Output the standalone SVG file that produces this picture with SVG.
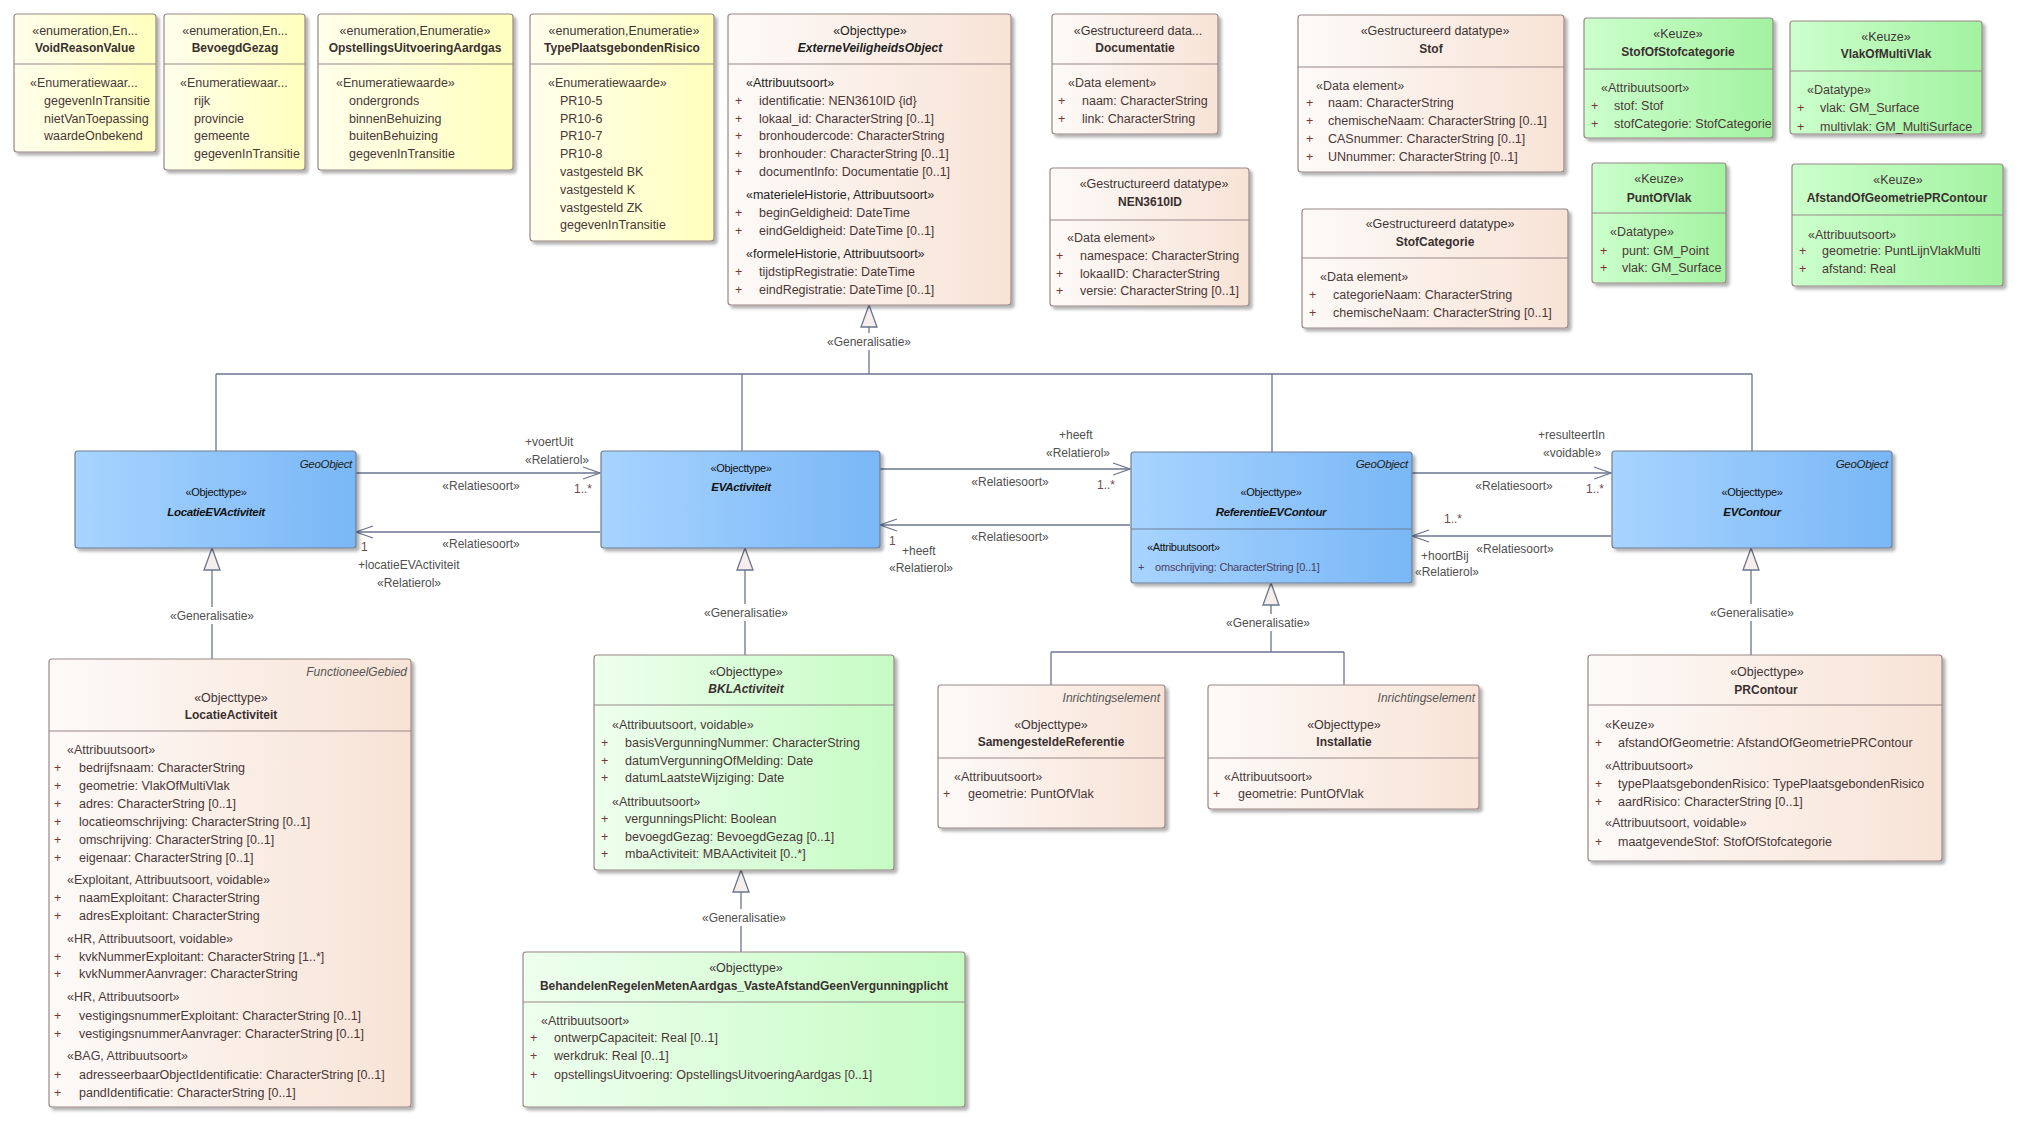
<svg xmlns="http://www.w3.org/2000/svg" width="2022" height="1125" viewBox="0 0 2022 1125">
<style>
.bx{stroke:#9A8888;stroke-width:1.2;filter:url(#sh)}
.enum{fill:url(#gEnum)}
.peach{fill:url(#gPeach)}
.green{fill:url(#gGreen)}
.lgreen{fill:url(#gLGreen)}
.blue{fill:url(#gBlue);stroke:#6F7E96}
.sep{stroke:#9A8888;stroke-width:1.2}
.bsep{stroke:#6F7E96;stroke-width:1.2}
text{font-family:"Liberation Sans",Arial,sans-serif}
.st{font-size:12.5px;fill:#3F3535;text-anchor:middle}
.nm{font-size:12px;font-weight:bold;fill:#3A3030;text-anchor:middle}
.nmi{font-size:12px;font-weight:bold;font-style:italic;fill:#1E1E1E;text-anchor:middle}
.sec{font-size:12.5px;fill:#4A3A3A}
.secb{font-size:12.5px;fill:#1E1E1E}
.at{font-size:12.5px;fill:#4A3636}
.pl{font-size:12.5px;fill:#7A3535}
.tag{font-size:12px;font-style:italic;fill:#555;text-anchor:end}
.bst{font-size:11px;fill:#111;text-anchor:middle;letter-spacing:-0.3px}
.bnm{font-size:11.5px;font-weight:bold;font-style:italic;fill:#111;text-anchor:middle;letter-spacing:-0.3px}
.btag{font-size:11.5px;font-style:italic;fill:#222;text-anchor:end;letter-spacing:-0.3px}
.bsec{font-size:11px;fill:#111;letter-spacing:-0.3px}
.bat{font-size:11px;fill:#4A4060;letter-spacing:-0.2px}
.conn{stroke:#6B7590;stroke-width:1.3;fill:none}
.tri{stroke:#6B7590;stroke-width:1.3;fill:#F6EEEA}
.lbl{font-size:12px;fill:#505050}
.lblm{font-size:12px;fill:#505050;text-anchor:middle}
.mul{font-size:12px;fill:#6A4A4A}
.lbg{fill:#fff}
</style>
<defs>
<filter id="sh" x="-5%" y="-5%" width="115%" height="115%">
<feDropShadow dx="3" dy="3" stdDeviation="1.5" flood-color="#000" flood-opacity="0.3"/>
</filter>
<linearGradient id="gEnum" x1="0" y1="0" x2="1" y2="0"><stop offset="0" stop-color="#FFFFEC"/><stop offset="1" stop-color="#FFFFBE"/></linearGradient>
<linearGradient id="gPeach" x1="0" y1="0" x2="1" y2="0"><stop offset="0" stop-color="#FDFAF8"/><stop offset="1" stop-color="#F8E3D6"/></linearGradient>
<linearGradient id="gGreen" x1="0" y1="0" x2="1" y2="0"><stop offset="0" stop-color="#CCFFCC"/><stop offset="1" stop-color="#A2F2A0"/></linearGradient>
<linearGradient id="gLGreen" x1="0" y1="0" x2="1" y2="0"><stop offset="0" stop-color="#EEFFEE"/><stop offset="1" stop-color="#C6FCC4"/></linearGradient>
<linearGradient id="gBlue" x1="0" y1="0" x2="1" y2="0"><stop offset="0" stop-color="#A8D4FF"/><stop offset="1" stop-color="#79B7F6"/></linearGradient>
</defs>

<g id="connectors">
<!-- generalization bus from ExterneVeiligheidsObject -->
<polygon class="tri" points="869,305 861,327 877,327"/>
<line class="conn" x1="869" y1="327" x2="869" y2="374"/>
<line class="conn" x1="216" y1="374" x2="1752" y2="374"/>
<line class="conn" x1="216" y1="374" x2="216" y2="451"/>
<line class="conn" x1="742" y1="374" x2="742" y2="451"/>
<line class="conn" x1="1272" y1="374" x2="1272" y2="452"/>
<line class="conn" x1="1752" y1="374" x2="1752" y2="451"/>
<rect class="lbg" x="825" y="333" width="88" height="17"/>
<text class="lblm" x="869" y="346">«Generalisatie»</text>

<!-- LocatieActiviteit -> LocatieEVActiviteit -->
<polygon class="tri" points="212,548 204,570 220,570"/>
<line class="conn" x1="212" y1="570" x2="212" y2="659"/>
<rect class="lbg" x="168" y="607" width="88" height="17"/>
<text class="lblm" x="212" y="620">«Generalisatie»</text>

<!-- BKLActiviteit -> EVActiviteit -->
<polygon class="tri" points="745,548 737,570 753,570"/>
<line class="conn" x1="745" y1="570" x2="745" y2="655"/>
<rect class="lbg" x="702" y="604" width="88" height="17"/>
<text class="lblm" x="746" y="617">«Generalisatie»</text>

<!-- Behandelen -> BKLActiviteit -->
<polygon class="tri" points="741,870 733,892 749,892"/>
<line class="conn" x1="741" y1="892" x2="741" y2="952"/>
<rect class="lbg" x="700" y="909" width="88" height="17"/>
<text class="lblm" x="744" y="922">«Generalisatie»</text>

<!-- SamengesteldeReferentie / Installatie -> ReferentieEVContour -->
<polygon class="tri" points="1271,583 1263,605 1279,605"/>
<line class="conn" x1="1271" y1="605" x2="1271" y2="652"/>
<line class="conn" x1="1051" y1="652" x2="1344" y2="652"/>
<line class="conn" x1="1051" y1="652" x2="1051" y2="685"/>
<line class="conn" x1="1344" y1="652" x2="1344" y2="685"/>
<rect class="lbg" x="1224" y="614" width="88" height="17"/>
<text class="lblm" x="1268" y="627">«Generalisatie»</text>

<!-- PRContour -> EVContour -->
<polygon class="tri" points="1751,548 1743,570 1759,570"/>
<line class="conn" x1="1751" y1="570" x2="1751" y2="655"/>
<rect class="lbg" x="1708" y="604" width="88" height="17"/>
<text class="lblm" x="1752" y="617">«Generalisatie»</text>

<!-- LocatieEVActiviteit -> EVActiviteit -->
<line class="conn" x1="356" y1="473" x2="600" y2="473"/>
<polyline class="conn" points="583,467 600,473 583,479"/>
<text class="lbl" x="525" y="446">+voertUit</text>
<text class="lbl" x="525" y="464">«Relatierol»</text>
<text class="lblm" x="481" y="490">«Relatiesoort»</text>
<text class="mul" x="574" y="493">1..*</text>

<!-- EVActiviteit -> LocatieEVActiviteit -->
<line class="conn" x1="600" y1="532" x2="356" y2="532"/>
<polyline class="conn" points="373,526 356,532 373,538"/>
<text class="mul" x="361" y="551">1</text>
<text class="lblm" x="481" y="548">«Relatiesoort»</text>
<text class="lbl" x="358" y="569">+locatieEVActiviteit</text>
<text class="lbl" x="377" y="587">«Relatierol»</text>

<!-- EVActiviteit -> ReferentieEVContour -->
<line class="conn" x1="880" y1="469" x2="1130" y2="469"/>
<polyline class="conn" points="1113,463 1130,469 1113,475"/>
<text class="lbl" x="1059" y="439">+heeft</text>
<text class="lbl" x="1046" y="457">«Relatierol»</text>
<text class="lblm" x="1010" y="486">«Relatiesoort»</text>
<text class="mul" x="1097" y="489">1..*</text>

<!-- ReferentieEVContour -> EVActiviteit -->
<line class="conn" x1="1130" y1="525" x2="880" y2="525"/>
<polyline class="conn" points="897,519 880,525 897,531"/>
<text class="mul" x="889" y="545">1</text>
<text class="lbl" x="902" y="555">+heeft</text>
<text class="lbl" x="889" y="572">«Relatierol»</text>
<text class="lblm" x="1010" y="541">«Relatiesoort»</text>

<!-- ReferentieEVContour -> EVContour -->
<line class="conn" x1="1412" y1="473" x2="1611" y2="473"/>
<polyline class="conn" points="1594,467 1611,473 1594,479"/>
<text class="lbl" x="1538" y="439">+resulteertIn</text>
<text class="lbl" x="1543" y="457">«voidable»</text>
<text class="lblm" x="1514" y="490">«Relatiesoort»</text>
<text class="mul" x="1586" y="493">1..*</text>

<!-- EVContour -> ReferentieEVContour -->
<line class="conn" x1="1611" y1="536" x2="1412" y2="536"/>
<polyline class="conn" points="1429,530 1412,536 1429,542"/>
<text class="mul" x="1444" y="523">1..*</text>
<text class="lbl" x="1421" y="560">+hoortBij</text>
<text class="lblm" x="1515" y="553">«Relatiesoort»</text>
<text class="lbl" x="1415" y="576">«Relatierol»</text>
</g>

<g id="VoidReasonValue">
<rect class="bx enum" x="14" y="14" width="142" height="138" rx="3"/>
<line class="sep" x1="14" y1="64" x2="156" y2="64"/>
<text class="st" x="85" y="35">«enumeration,En...</text>
<text class="nm" x="85" y="52">VoidReasonValue</text>
<text class="sec" x="30" y="87">«Enumeratiewaar...</text>
<text class="at" x="44" y="105">gegevenInTransitie</text>
<text class="at" x="44" y="123">nietVanToepassing</text>
<text class="at" x="44" y="140">waardeOnbekend</text>
</g>

<g id="BevoegdGezag">
<rect class="bx enum" x="164" y="14" width="141" height="156" rx="3"/>
<line class="sep" x1="164" y1="64" x2="305" y2="64"/>
<text class="st" x="235" y="35">«enumeration,En...</text>
<text class="nm" x="235" y="52">BevoegdGezag</text>
<text class="sec" x="180" y="87">«Enumeratiewaar...</text>
<text class="at" x="194" y="105">rijk</text>
<text class="at" x="194" y="123">provincie</text>
<text class="at" x="194" y="140">gemeente</text>
<text class="at" x="194" y="158">gegevenInTransitie</text>
</g>

<g id="OpstellingsUitvoeringAardgas">
<rect class="bx enum" x="318" y="14" width="195" height="156" rx="3"/>
<line class="sep" x1="318" y1="64" x2="513" y2="64"/>
<text class="st" x="415" y="35">«enumeration,Enumeratie»</text>
<text class="nm" x="415" y="52">OpstellingsUitvoeringAardgas</text>
<text class="sec" x="336" y="87">«Enumeratiewaarde»</text>
<text class="at" x="349" y="105">ondergronds</text>
<text class="at" x="349" y="123">binnenBehuizing</text>
<text class="at" x="349" y="140">buitenBehuizing</text>
<text class="at" x="349" y="158">gegevenInTransitie</text>
</g>

<g id="TypePlaatsgebondenRisico">
<rect class="bx enum" x="530" y="14" width="184" height="227" rx="3"/>
<line class="sep" x1="530" y1="64" x2="714" y2="64"/>
<text class="st" x="624" y="35">«enumeration,Enumeratie»</text>
<text class="nm" x="622" y="52">TypePlaatsgebondenRisico</text>
<text class="sec" x="548" y="87">«Enumeratiewaarde»</text>
<text class="at" x="560" y="105">PR10-5</text>
<text class="at" x="560" y="123">PR10-6</text>
<text class="at" x="560" y="140">PR10-7</text>
<text class="at" x="560" y="158">PR10-8</text>
<text class="at" x="560" y="176">vastgesteld BK</text>
<text class="at" x="560" y="194">vastgesteld K</text>
<text class="at" x="560" y="212">vastgesteld ZK</text>
<text class="at" x="560" y="229">gegevenInTransitie</text>
</g>

<g id="ExterneVeiligheidsObject">
<rect class="bx peach" x="728" y="14" width="283" height="291" rx="3"/>
<line class="sep" x1="728" y1="64" x2="1011" y2="64"/>
<text class="st" x="870" y="35" style="fill:#1E1E1E">«Objecttype»</text>
<text class="nmi" x="870" y="52">ExterneVeiligheidsObject</text>
<text class="secb" x="746" y="87">«Attribuutsoort»</text>
<text class="pl" x="735" y="105">+</text><text class="at" x="759" y="105">identificatie: NEN3610ID {id}</text>
<text class="pl" x="735" y="123">+</text><text class="at" x="759" y="123">lokaal_id: CharacterString [0..1]</text>
<text class="pl" x="735" y="140">+</text><text class="at" x="759" y="140">bronhoudercode: CharacterString</text>
<text class="pl" x="735" y="158">+</text><text class="at" x="759" y="158">bronhouder: CharacterString [0..1]</text>
<text class="pl" x="735" y="176">+</text><text class="at" x="759" y="176">documentInfo: Documentatie [0..1]</text>
<text class="secb" x="746" y="199">«materieleHistorie, Attribuutsoort»</text>
<text class="pl" x="735" y="217">+</text><text class="at" x="759" y="217">beginGeldigheid: DateTime</text>
<text class="pl" x="735" y="235">+</text><text class="at" x="759" y="235">eindGeldigheid: DateTime [0..1]</text>
<text class="secb" x="746" y="258">«formeleHistorie, Attribuutsoort»</text>
<text class="pl" x="735" y="276">+</text><text class="at" x="759" y="276">tijdstipRegistratie: DateTime</text>
<text class="pl" x="735" y="294">+</text><text class="at" x="759" y="294">eindRegistratie: DateTime [0..1]</text>
</g>

<g id="Documentatie">
<rect class="bx peach" x="1052" y="14" width="166" height="120" rx="3"/>
<line class="sep" x1="1052" y1="64" x2="1218" y2="64"/>
<text class="st" x="1138" y="35">«Gestructureerd data...</text>
<text class="nm" x="1135" y="52">Documentatie</text>
<text class="sec" x="1068" y="87">«Data element»</text>
<text class="pl" x="1058" y="105">+</text><text class="at" x="1082" y="105">naam: CharacterString</text>
<text class="pl" x="1058" y="123">+</text><text class="at" x="1082" y="123">link: CharacterString</text>
</g>

<g id="NEN3610ID">
<rect class="bx peach" x="1050" y="168" width="199" height="138" rx="3"/>
<line class="sep" x1="1050" y1="220" x2="1249" y2="220"/>
<text class="st" x="1154" y="188">«Gestructureerd datatype»</text>
<text class="nm" x="1150" y="206">NEN3610ID</text>
<text class="sec" x="1067" y="242">«Data element»</text>
<text class="pl" x="1056" y="260">+</text><text class="at" x="1080" y="260">namespace: CharacterString</text>
<text class="pl" x="1056" y="278">+</text><text class="at" x="1080" y="278">lokaalID: CharacterString</text>
<text class="pl" x="1056" y="295">+</text><text class="at" x="1080" y="295">versie: CharacterString [0..1]</text>
</g>

<g id="Stof">
<rect class="bx peach" x="1298" y="15" width="266" height="157" rx="3"/>
<line class="sep" x1="1298" y1="67" x2="1564" y2="67"/>
<text class="st" x="1435" y="35">«Gestructureerd datatype»</text>
<text class="nm" x="1431" y="53">Stof</text>
<text class="sec" x="1316" y="90">«Data element»</text>
<text class="pl" x="1306" y="107">+</text><text class="at" x="1328" y="107">naam: CharacterString</text>
<text class="pl" x="1306" y="125">+</text><text class="at" x="1328" y="125">chemischeNaam: CharacterString [0..1]</text>
<text class="pl" x="1306" y="143">+</text><text class="at" x="1328" y="143">CASnummer: CharacterString [0..1]</text>
<text class="pl" x="1306" y="161">+</text><text class="at" x="1328" y="161">UNnummer: CharacterString [0..1]</text>
</g>

<g id="StofCategorie">
<rect class="bx peach" x="1302" y="209" width="266" height="119" rx="3"/>
<line class="sep" x1="1302" y1="258" x2="1568" y2="258"/>
<text class="st" x="1440" y="228">«Gestructureerd datatype»</text>
<text class="nm" x="1435" y="246">StofCategorie</text>
<text class="sec" x="1320" y="281">«Data element»</text>
<text class="pl" x="1309" y="299">+</text><text class="at" x="1333" y="299">categorieNaam: CharacterString</text>
<text class="pl" x="1309" y="317">+</text><text class="at" x="1333" y="317">chemischeNaam: CharacterString [0..1]</text>
</g>

<g id="StofOfStofcategorie">
<rect class="bx green" x="1584" y="18" width="189" height="120" rx="3"/>
<line class="sep" x1="1584" y1="69" x2="1773" y2="69"/>
<text class="st" x="1678" y="38">«Keuze»</text>
<text class="nm" x="1678" y="56">StofOfStofcategorie</text>
<text class="sec" x="1601" y="92">«Attribuutsoort»</text>
<text class="pl" x="1591" y="110">+</text><text class="at" x="1614" y="110">stof: Stof</text>
<text class="pl" x="1591" y="128">+</text><text class="at" x="1614" y="128">stofCategorie: StofCategorie</text>
</g>

<g id="VlakOfMultiVlak">
<rect class="bx green" x="1790" y="21" width="192" height="113" rx="3"/>
<line class="sep" x1="1790" y1="71" x2="1982" y2="71"/>
<text class="st" x="1886" y="41">«Keuze»</text>
<text class="nm" x="1886" y="58">VlakOfMultiVlak</text>
<text class="sec" x="1807" y="94">«Datatype»</text>
<text class="pl" x="1797" y="112">+</text><text class="at" x="1820" y="112">vlak: GM_Surface</text>
<text class="pl" x="1797" y="131">+</text><text class="at" x="1820" y="131">multivlak: GM_MultiSurface</text>
</g>

<g id="PuntOfVlak">
<rect class="bx green" x="1592" y="163" width="134" height="120" rx="3"/>
<line class="sep" x1="1592" y1="213" x2="1726" y2="213"/>
<text class="st" x="1659" y="183">«Keuze»</text>
<text class="nm" x="1659" y="202">PuntOfVlak</text>
<text class="sec" x="1610" y="236">«Datatype»</text>
<text class="pl" x="1600" y="255">+</text><text class="at" x="1622" y="255">punt: GM_Point</text>
<text class="pl" x="1600" y="272">+</text><text class="at" x="1622" y="272">vlak: GM_Surface</text>
</g>

<g id="AfstandOfGeometriePRContour">
<rect class="bx green" x="1792" y="164" width="211" height="122" rx="3"/>
<line class="sep" x1="1792" y1="215" x2="2003" y2="215"/>
<text class="st" x="1898" y="184">«Keuze»</text>
<text class="nm" x="1897" y="202">AfstandOfGeometriePRContour</text>
<text class="sec" x="1808" y="239">«Attribuutsoort»</text>
<text class="pl" x="1799" y="255">+</text><text class="at" x="1822" y="255">geometrie: PuntLijnVlakMulti</text>
<text class="pl" x="1799" y="273">+</text><text class="at" x="1822" y="273">afstand: Real</text>
</g>

<g id="LocatieEVActiviteit">
<rect class="bx blue" x="75" y="451" width="281" height="97" rx="3"/>
<text class="btag" x="352" y="468">GeoObject</text>
<text class="bst" x="216" y="496">«Objecttype»</text>
<text class="bnm" x="216" y="516">LocatieEVActiviteit</text>
</g>

<g id="EVActiviteit">
<rect class="bx blue" x="601" y="451" width="279" height="97" rx="3"/>
<text class="bst" x="741" y="472">«Objecttype»</text>
<text class="bnm" x="741" y="491">EVActiviteit</text>
</g>

<g id="ReferentieEVContour">
<rect class="bx blue" x="1131" y="452" width="281" height="131" rx="3"/>
<line class="bsep" x1="1131" y1="529" x2="1412" y2="529"/>
<text class="btag" x="1408" y="468">GeoObject</text>
<text class="bst" x="1271" y="496">«Objecttype»</text>
<text class="bnm" x="1271" y="516">ReferentieEVContour</text>
<text class="bsec" x="1147" y="551">«Attribuutsoort»</text>
<text class="bat" x="1138" y="571">+</text><text class="bat" x="1155" y="571">omschrijving: CharacterString [0..1]</text>
</g>

<g id="EVContour">
<rect class="bx blue" x="1612" y="451" width="280" height="97" rx="3"/>
<text class="btag" x="1888" y="468">GeoObject</text>
<text class="bst" x="1752" y="496">«Objecttype»</text>
<text class="bnm" x="1752" y="516">EVContour</text>
</g>

<g id="LocatieActiviteit">
<rect class="bx peach" x="49" y="659" width="362" height="448" rx="3"/>
<line class="sep" x1="49" y1="731" x2="411" y2="731"/>
<text class="tag" x="407" y="676">FunctioneelGebied</text>
<text class="st" x="231" y="702">«Objecttype»</text>
<text class="nm" x="231" y="719">LocatieActiviteit</text>
<text class="sec" x="67" y="754">«Attribuutsoort»</text>
<text class="pl" x="54" y="772">+</text><text class="at" x="79" y="772">bedrijfsnaam: CharacterString</text>
<text class="pl" x="54" y="790">+</text><text class="at" x="79" y="790">geometrie: VlakOfMultiVlak</text>
<text class="pl" x="54" y="808">+</text><text class="at" x="79" y="808">adres: CharacterString [0..1]</text>
<text class="pl" x="54" y="826">+</text><text class="at" x="79" y="826">locatieomschrijving: CharacterString [0..1]</text>
<text class="pl" x="54" y="844">+</text><text class="at" x="79" y="844">omschrijving: CharacterString [0..1]</text>
<text class="pl" x="54" y="862">+</text><text class="at" x="79" y="862">eigenaar: CharacterString [0..1]</text>
<text class="sec" x="67" y="884">«Exploitant, Attribuutsoort, voidable»</text>
<text class="pl" x="54" y="902">+</text><text class="at" x="79" y="902">naamExploitant: CharacterString</text>
<text class="pl" x="54" y="920">+</text><text class="at" x="79" y="920">adresExploitant: CharacterString</text>
<text class="sec" x="67" y="943">«HR, Attribuutsoort, voidable»</text>
<text class="pl" x="54" y="961">+</text><text class="at" x="79" y="961">kvkNummerExploitant: CharacterString [1..*]</text>
<text class="pl" x="54" y="978">+</text><text class="at" x="79" y="978">kvkNummerAanvrager: CharacterString</text>
<text class="sec" x="67" y="1001">«HR, Attribuutsoort»</text>
<text class="pl" x="54" y="1020">+</text><text class="at" x="79" y="1020">vestigingsnummerExploitant: CharacterString [0..1]</text>
<text class="pl" x="54" y="1038">+</text><text class="at" x="79" y="1038">vestigingsnummerAanvrager: CharacterString [0..1]</text>
<text class="sec" x="67" y="1060">«BAG, Attribuutsoort»</text>
<text class="pl" x="54" y="1079">+</text><text class="at" x="79" y="1079">adresseerbaarObjectIdentificatie: CharacterString [0..1]</text>
<text class="pl" x="54" y="1097">+</text><text class="at" x="79" y="1097">pandIdentificatie: CharacterString [0..1]</text>
</g>

<g id="BKLActiviteit">
<rect class="bx lgreen" x="594" y="655" width="300" height="215" rx="3"/>
<line class="sep" x1="594" y1="705" x2="894" y2="705"/>
<text class="st" x="746" y="676">«Objecttype»</text>
<text class="nmi" x="746" y="693" style="fill:#3A3030">BKLActiviteit</text>
<text class="sec" x="612" y="729">«Attribuutsoort, voidable»</text>
<text class="pl" x="601" y="747">+</text><text class="at" x="625" y="747">basisVergunningNummer: CharacterString</text>
<text class="pl" x="601" y="765">+</text><text class="at" x="625" y="765">datumVergunningOfMelding: Date</text>
<text class="pl" x="601" y="782">+</text><text class="at" x="625" y="782">datumLaatsteWijziging: Date</text>
<text class="sec" x="612" y="806">«Attribuutsoort»</text>
<text class="pl" x="601" y="823">+</text><text class="at" x="625" y="823">vergunningsPlicht: Boolean</text>
<text class="pl" x="601" y="841">+</text><text class="at" x="625" y="841">bevoegdGezag: BevoegdGezag [0..1]</text>
<text class="pl" x="601" y="858">+</text><text class="at" x="625" y="858">mbaActiviteit: MBAActiviteit [0..*]</text>
</g>

<g id="BehandelenRegelenMetenAardgas_VasteAfstandGeenVergunningplicht">
<rect class="bx lgreen" x="523" y="952" width="442" height="155" rx="3"/>
<line class="sep" x1="523" y1="1002" x2="965" y2="1002"/>
<text class="st" x="746" y="972">«Objecttype»</text>
<text class="nm" x="744" y="990">BehandelenRegelenMetenAardgas_VasteAfstandGeenVergunningplicht</text>
<text class="sec" x="541" y="1025">«Attribuutsoort»</text>
<text class="pl" x="530" y="1042">+</text><text class="at" x="554" y="1042">ontwerpCapaciteit: Real [0..1]</text>
<text class="pl" x="530" y="1060">+</text><text class="at" x="554" y="1060">werkdruk: Real [0..1]</text>
<text class="pl" x="530" y="1079">+</text><text class="at" x="554" y="1079">opstellingsUitvoering: OpstellingsUitvoeringAardgas [0..1]</text>
</g>

<g id="SamengesteldeReferentie">
<rect class="bx peach" x="938" y="685" width="227" height="143" rx="3"/>
<line class="sep" x1="938" y1="758" x2="1165" y2="758"/>
<text class="tag" x="1160" y="702">Inrichtingselement</text>
<text class="st" x="1051" y="729">«Objecttype»</text>
<text class="nm" x="1051" y="746">SamengesteldeReferentie</text>
<text class="sec" x="954" y="781">«Attribuutsoort»</text>
<text class="pl" x="943" y="798">+</text><text class="at" x="968" y="798">geometrie: PuntOfVlak</text>
</g>

<g id="Installatie">
<rect class="bx peach" x="1208" y="685" width="271" height="124" rx="3"/>
<line class="sep" x1="1208" y1="758" x2="1479" y2="758"/>
<text class="tag" x="1475" y="702">Inrichtingselement</text>
<text class="st" x="1344" y="729">«Objecttype»</text>
<text class="nm" x="1344" y="746">Installatie</text>
<text class="sec" x="1224" y="781">«Attribuutsoort»</text>
<text class="pl" x="1213" y="798">+</text><text class="at" x="1238" y="798">geometrie: PuntOfVlak</text>
</g>

<g id="PRContour">
<rect class="bx peach" x="1588" y="655" width="354" height="206" rx="3"/>
<line class="sep" x1="1588" y1="705" x2="1942" y2="705"/>
<text class="st" x="1767" y="676">«Objecttype»</text>
<text class="nm" x="1766" y="694">PRContour</text>
<text class="sec" x="1605" y="729">«Keuze»</text>
<text class="pl" x="1595" y="747">+</text><text class="at" x="1618" y="747">afstandOfGeometrie: AfstandOfGeometriePRContour</text>
<text class="sec" x="1605" y="770">«Attribuutsoort»</text>
<text class="pl" x="1595" y="788">+</text><text class="at" x="1618" y="788">typePlaatsgebondenRisico: TypePlaatsgebondenRisico</text>
<text class="pl" x="1595" y="806">+</text><text class="at" x="1618" y="806">aardRisico: CharacterString [0..1]</text>
<text class="sec" x="1605" y="827">«Attribuutsoort, voidable»</text>
<text class="pl" x="1595" y="846">+</text><text class="at" x="1618" y="846">maatgevendeStof: StofOfStofcategorie</text>
</g>
</svg>
